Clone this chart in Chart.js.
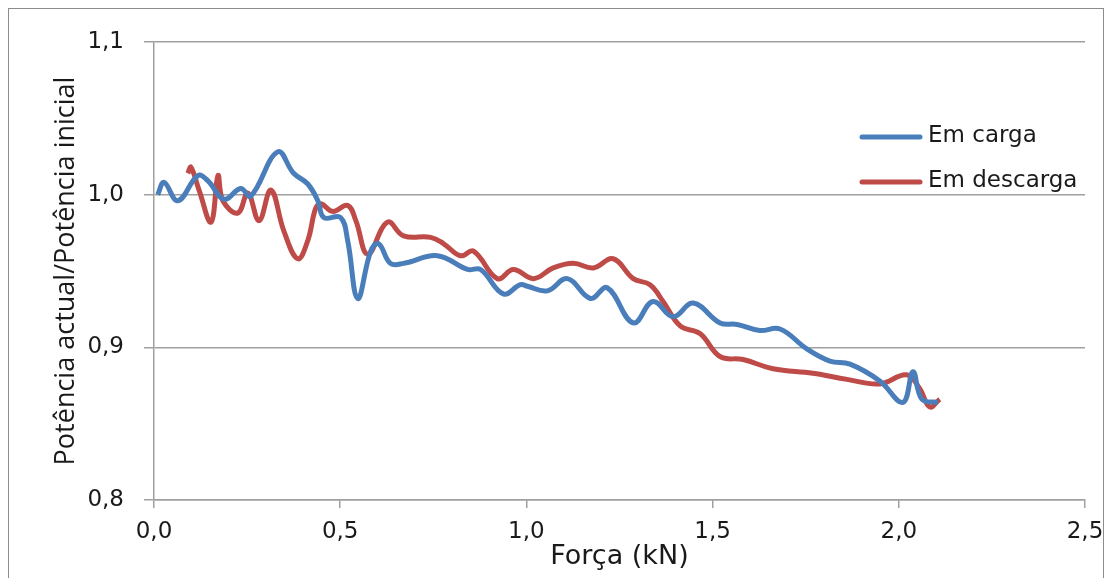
<!DOCTYPE html>
<html>
<head>
<meta charset="utf-8">
<script src="https://cdn.jsdelivr.net/npm/chart.js@4.4.1/dist/chart.umd.min.js"></script>
<style>
html,body{margin:0;padding:0;background:#fff;}
#wrap{width:1107px;height:578px;position:relative;}
</style>
</head>
<body>
<div id="wrap"><canvas id="c" width="1107" height="578"></canvas></div>
<script>
// Data
const seriesNames = ["Em carga", "Em descarga"];
const xCarga = [0.01, 0.027, 0.064, 0.118, 0.145, 0.188, 0.233, 0.260, 0.332, 0.375, 0.413, 0.440, 0.456, 0.501, 0.520, 0.547, 0.582, 0.603, 0.635, 0.670, 0.761, 0.842, 0.877, 0.938, 0.984, 1.003, 1.056, 1.110, 1.172, 1.217, 1.287, 1.340, 1.394, 1.448, 1.520, 1.566, 1.627, 1.681, 1.753, 1.815, 1.869, 1.949, 2.011, 2.038, 2.062, 2.105];
const yCarga = [1.000, 1.008, 0.996, 1.0125, 1.009, 0.997, 1.004, 0.999, 1.028, 1.014, 1.007, 0.996, 0.985, 0.985, 0.970, 0.932, 0.963, 0.968, 0.955, 0.955, 0.960, 0.951, 0.951, 0.935, 0.941, 0.940, 0.937, 0.945, 0.932, 0.939, 0.916, 0.930, 0.920, 0.929, 0.916, 0.915, 0.911, 0.912, 0.899, 0.891, 0.889, 0.878, 0.864, 0.884, 0.866, 0.864];
const xDescarga = [0.091, 0.099, 0.121, 0.153, 0.172, 0.185, 0.225, 0.252, 0.282, 0.314, 0.349, 0.386, 0.413, 0.434, 0.448, 0.480, 0.520, 0.542, 0.574, 0.627, 0.670, 0.743, 0.777, 0.823, 0.858, 0.922, 0.965, 1.019, 1.072, 1.126, 1.180, 1.233, 1.287, 1.332, 1.367, 1.413, 1.466, 1.520, 1.582, 1.662, 1.769, 1.861, 1.949, 2.021, 2.056, 2.083, 2.110];
const yDescarga = [1.014, 1.018, 1.003, 0.982, 1.0125, 0.996, 0.988, 1.001, 0.983, 1.003, 0.976, 0.958, 0.970, 0.991, 0.994, 0.989, 0.993, 0.983, 0.961, 0.982, 0.973, 0.972, 0.968, 0.960, 0.963, 0.945, 0.951, 0.945, 0.952, 0.955, 0.952, 0.958, 0.945, 0.941, 0.930, 0.914, 0.909, 0.894, 0.892, 0.886, 0.883, 0.879, 0.876, 0.882, 0.873, 0.861, 0.866];
const xTicks = [0, 0.5, 1.0, 1.5, 2.0, 2.5];
const yTicks = [0.8, 0.9, 1.0, 1.1];
const xTitle = "Força (kN)";
const yTitle = "Potência actual/Potência inicial";

const colors = ["#4a7ebb", "#be4b48"];
const toPts = (xs, ys) => xs.map((x, i) => ({x: x, y: ys[i]}));
const fmt = v => v.toFixed(1).replace('.', ',');

const frame = {
  id: 'frame',
  beforeDraw(chart) {
    const ctx = chart.ctx;
    ctx.save();
    ctx.fillStyle = '#fff';
    ctx.fillRect(0, 0, chart.width, chart.height);
    ctx.strokeStyle = '#8c8c8c';
    ctx.lineWidth = 1;
    ctx.strokeRect(8.5, 8.5, 1095, 620);
    ctx.restore();
  }
};

const legendPlugin = {
  id: 'customLegend',
  afterDatasetsDraw(chart) {
    const ctx = chart.ctx;
    ctx.save();
    const rows = [137, 182];
    chart.data.datasets.forEach((ds, i) => {
      const y = rows[i];
      ctx.strokeStyle = ds.borderColor;
      ctx.lineWidth = 5;
      ctx.lineCap = 'round';
      ctx.beginPath();
      ctx.moveTo(862, y);
      ctx.lineTo(920, y);
      ctx.stroke();
      ctx.fillStyle = '#1a1a1a';
      ctx.font = '23px "DejaVu Sans"';
      ctx.textBaseline = 'middle';
      ctx.textAlign = 'left';
      ctx.fillText(ds.label, 928, y - 1);
    });
    ctx.restore();
  }
};

new Chart(document.getElementById('c'), {
  type: 'scatter',
  data: {
    datasets: [
      {label: seriesNames[0], data: toPts(xCarga, yCarga), showLine: true, borderColor: colors[0], backgroundColor: colors[0], borderWidth: 5, pointRadius: 0, tension: 0.4},
      {label: seriesNames[1], data: toPts(xDescarga, yDescarga), showLine: true, borderColor: colors[1], backgroundColor: colors[1], borderWidth: 5, pointRadius: 0, tension: 0.4}
    ]
  },
  options: {
    responsive: false,
    animation: false,
    devicePixelRatio: 1,
    layout: {padding: {left: 0, top: 42, right: 22, bottom: 0}},
    plugins: {legend: {display: false}, tooltip: {enabled: false}},
    scales: {
      x: {
        type: 'linear', min: 0, max: 2.5,
        afterBuildTicks: s => { s.ticks = xTicks.map(v => ({value: v})); },
        afterFit: s => { s.height = 78; s.paddingRight = 22; s.paddingLeft = 0; },
        border: {display: true, color: '#a0a0a0', width: 1.5},
        grid: {display: true, drawOnChartArea: false, drawTicks: true, tickLength: 8, color: '#a0a0a0', lineWidth: 1.5},
        ticks: {color: '#1a1a1a', font: {family: 'DejaVu Sans', size: 23}, padding: 10, callback: v => fmt(v), maxRotation: 0},
        title: {display: true, text: xTitle, color: '#1a1a1a', font: {family: 'DejaVu Sans', size: 27}, padding: {top: 0, bottom: 5}}
      },
      y: {
        type: 'linear', min: 0.8, max: 1.1,
        afterBuildTicks: s => { s.ticks = yTicks.map(v => ({value: v})); },
        afterFit: s => { s.width = 154; },
        border: {display: true, color: '#a0a0a0', width: 1.5},
        grid: {display: true, drawOnChartArea: true, drawTicks: true, tickLength: 10, color: '#a0a0a0', lineWidth: 1.5},
        ticks: {color: '#1a1a1a', font: {family: 'DejaVu Sans', size: 23}, padding: 20, callback: v => fmt(v)},
        title: {display: true, text: yTitle, color: '#1a1a1a', font: {family: 'Open Sans', size: 27}, padding: {top: 50, bottom: 0}}
      }
    }
  },
  plugins: [frame, legendPlugin]
});
</script>
</body>
</html>
